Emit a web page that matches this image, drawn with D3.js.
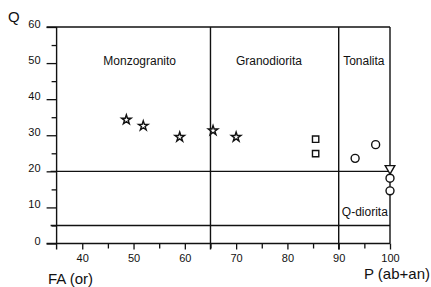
<!DOCTYPE html>
<html>
<head>
<meta charset="utf-8">
<script src="https://cdn.jsdelivr.net/npm/d3@7"></script>
<style>
  body { margin: 0; background: #fff; }
  svg text { font-family: "Liberation Sans", Arial, Helvetica, sans-serif; fill: #111; }
</style>
</head>
<body>
<svg id="chart" width="431" height="287" viewBox="0 0 431 287"></svg>
<script>
// --- Data ---
const starX = [48.6, 51.9, 59.0, 65.5, 70.0];
const starY = [34.3, 32.6, 29.5, 31.3, 29.5];
const squareX = [85.5, 85.5];
const squareY = [28.9, 24.9];
const circleX = [93.2, 97.2, 100, 100];
const circleY = [23.6, 27.4, 18.1, 14.6];
const triangleX = [100];
const triangleY = [20.8];

// field boundaries (Streckeisen QAP lower half)
const splitP = [65, 90];
const splitQ = [20, 5];
const fieldNames = ["Monzogranito", "Granodiorita", "Tonalita", "Q-diorita"];
const fieldAtX = [51.2, 76.4, 94.9, 95.1];
const fieldAtY = [50.6, 50.6, 50.6, 8.8];

const yTicks = [0, 10, 20, 30, 40, 50, 60];
const xTicks = [40, 50, 60, 70, 80, 90, 100];

const svg = d3.select("#chart");

const x = d3.scaleLinear().domain([35, 100]).range([56.6, 390]);
const y = d3.scaleLinear().domain([0, 60]).range([243.5, 27]);

const ink = "#111";

// --- Axes ---
const yAxis = svg.append("g")
  .attr("transform", `translate(${x(35)},0)`)
  .call(d3.axisLeft(y).tickValues(yTicks).tickSize(10).tickPadding(6).tickFormat(d3.format("d")));
yAxis.select(".domain").remove();
yAxis.selectAll("text").attr("dy", "0.05em").style("font-size", "11px");

const yMinor = svg.append("g")
  .attr("transform", `translate(${x(35)},0)`)
  .call(d3.axisLeft(y).tickValues([5, 15, 25, 35, 45, 55]).tickSize(5).tickFormat(""));
yMinor.select(".domain").remove();

const xAxis = svg.append("g")
  .attr("transform", `translate(0,${y(0)})`)
  .call(d3.axisBottom(x).tickValues(xTicks).tickSize(6).tickPadding(5).tickFormat(d3.format("d")));
xAxis.select(".domain").remove();
xAxis.selectAll("text").style("font-size", "11px");

const xMinor = svg.append("g")
  .attr("transform", `translate(0,${y(0)})`)
  .call(d3.axisBottom(x).tickValues([45, 55, 65, 75, 85, 95]).tickSize(5).tickFormat(""));
xMinor.select(".domain").remove();

svg.selectAll(".tick line").attr("stroke", ink).attr("stroke-width", 1.3);

// --- Frame ---
const frame = svg.append("g").attr("stroke", ink).attr("stroke-width", 1.4).attr("fill", "none");
frame.append("line").attr("x1", x(35) - 10).attr("x2", x(100)).attr("y1", y(60)).attr("y2", y(60));
frame.append("line").attr("x1", x(35) - 10).attr("x2", x(100)).attr("y1", y(0)).attr("y2", y(0));
frame.append("line").attr("x1", x(35)).attr("x2", x(35)).attr("y1", y(60)).attr("y2", y(0) + 6);
frame.append("line").attr("x1", x(100)).attr("x2", x(100)).attr("y1", y(60)).attr("y2", y(0));

// field boundary lines
frame.selectAll(".vsplit").data(splitP).join("line")
  .attr("x1", d => x(d)).attr("x2", d => x(d))
  .attr("y1", y(60)).attr("y2", y(0) + 6);
frame.selectAll(".hsplit").data(splitQ).join("line")
  .attr("x1", x(35) - 6).attr("x2", x(100))
  .attr("y1", d => y(d)).attr("y2", d => y(d));

// --- Field names ---
svg.selectAll(".field").data(fieldNames).join("text")
  .attr("x", (d, i) => x(fieldAtX[i]))
  .attr("y", (d, i) => y(fieldAtY[i]))
  .attr("dy", "0.35em")
  .attr("text-anchor", "middle")
  .style("font-size", "12px")
  .text(d => d);

// --- Axis titles ---
svg.append("text").attr("x", 8).attr("y", 22).style("font-size", "15px").text("Q");
svg.append("text").attr("x", 48).attr("y", 284).style("font-size", "15px").text("FA (or)");
svg.append("text").attr("x", 430).attr("y", 279).attr("text-anchor", "end").style("font-size", "15px").text("P (ab+an)");

// --- Samples ---
const pts = svg.append("g").attr("fill", "#fff").attr("stroke", ink).attr("stroke-width", 1.4);

function plot(xs, ys, type, size, rot) {
  pts.selectAll(null).data(xs).join("path")
    .attr("transform", (d, i) => `translate(${x(d)},${y(ys[i])}) rotate(${rot})`)
    .attr("d", d3.symbol().type(type).size(size));
}

plot(starX, starY, d3.symbolStar, 28, 0);
plot(squareX, squareY, d3.symbolSquare, 40, 0);
plot(circleX, circleY, d3.symbolCircle, 50, 0);
plot(triangleX, triangleY, d3.symbolTriangle, 40, 180);
</script>
</body>
</html>
